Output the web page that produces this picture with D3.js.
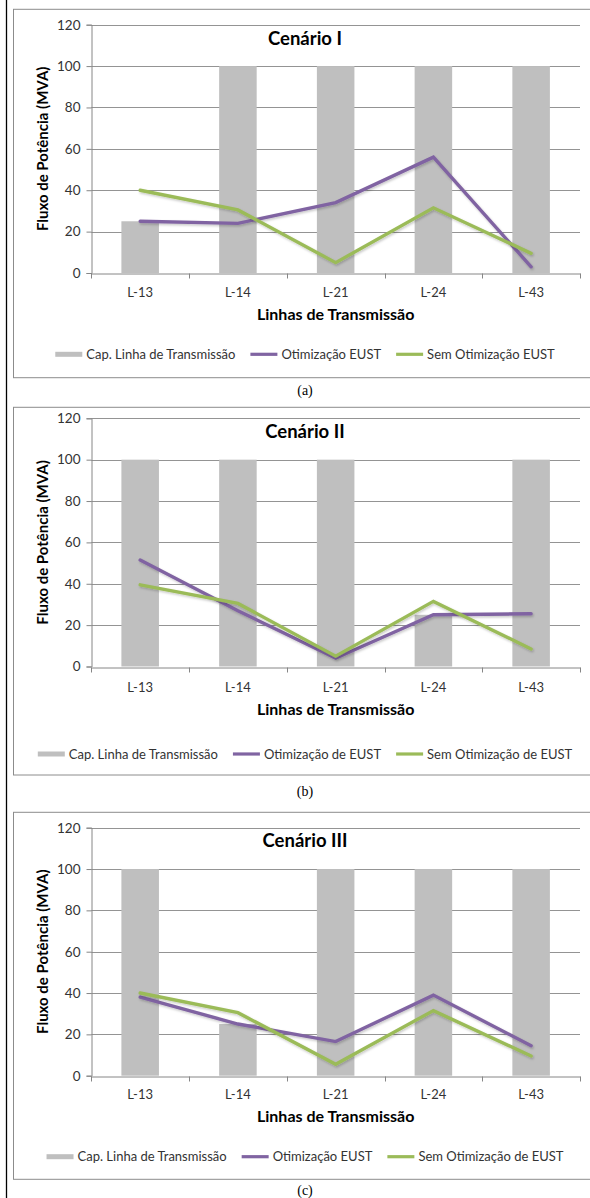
<!DOCTYPE html>
<html><head><meta charset="utf-8">
<script src="https://cdn.jsdelivr.net/npm/d3@7"></script>
<style>
html,body{margin:0;padding:0;background:#fff;}
svg{display:block;}
</style></head>
<body>
<script>
// ---------- data ----------
const categories = ["L-13", "L-14", "L-21", "L-24", "L-43"];
const yTicks = [0, 20, 40, 60, 80, 100, 120];

const capI   = [25, 100, 100, 100, 100];
const otimI  = [25, 24, 34, 56, 3];
const semI   = [40, 30.5, 5, 31.5, 9.5];

const capII  = [100, 100, 100, 25, 100];
const otimII = [51.5, 27, 4, 25, 25.5];
const semII  = [39.5, 30.5, 5, 31.5, 8.5];

const capIII  = [100, 25, 100, 100, 100];
const otimIII = [38, 25, 16.5, 39, 14.5];
const semIII  = [40, 30.5, 5.5, 31.5, 9.5];

const titles = ["Cenário I", "Cenário II", "Cenário III"];
const captions = ["(a)", "(b)", "(c)"];
const legendI   = ["Cap. Linha de Transmissão", "Otimização EUST", "Sem Otimização EUST"];
const legendII  = ["Cap. Linha de Transmissão", "Otimização de EUST", "Sem Otimização de EUST"];
const legendIII = ["Cap. Linha de Transmissão", "Otimização EUST", "Sem Otimização de EUST"];
const yTitle = "Fluxo de Potência (MVA)";
const xTitle = "Linhas de Transmissão";

// ---------- layout / style ----------
const W = 590, H = 1198;
const COL_BAR = "#bfbfbf", COL_OTIM = "#8064a2", COL_SEM = "#9bbb59";
const FONT = "Lato, 'Open Sans', sans-serif";
const panels = [
  {cap: capI,   otim: otimI,   sem: semI,   legend: legendI,
   boxTop: 9.3, boxBot: 377.7, yTop: 24.7, yBot: 273, lab: 291.7, xt: 314.5, leg: 354.3, tt: 39, capY: 390.5},
  {cap: capII,  otim: otimII,  sem: semII,  legend: legendII,
   boxTop: 407.3, boxBot: 775, yTop: 418.3, yBot: 666.5, lab: 686.7, xt: 709.5, leg: 754, tt: 431.7, capY: 791.2},
  {cap: capIII, otim: otimIII, sem: semIII, legend: legendIII,
   boxTop: 812.3, boxBot: 1179.3, yTop: 827.7, yBot: 1075.7, lab: 1094, xt: 1116.2, leg: 1156.7, tt: 841, capY: 1190.5}
];
const plotL = 91.3, plotR = 580, boxL = 13.5, boxR = 597, midX = 305;

const svg = d3.select("body").append("svg").attr("width", W).attr("height", H);
svg.append("rect").attr("width", W).attr("height", H).attr("fill", "#fff");

const defs = svg.append("defs");
const f = defs.append("filter").attr("id", "sh").attr("x", "-10%").attr("y", "-20%").attr("width", "130%").attr("height", "150%");
f.append("feDropShadow").attr("dx", 1).attr("dy", 1.5).attr("stdDeviation", 1).attr("flood-color", "#000").attr("flood-opacity", 0.22);

// page border line on the left
svg.append("line").attr("x1", 6.5).attr("x2", 6.5).attr("y1", 0).attr("y2", H)
  .attr("stroke", "#000").attr("stroke-width", 1.3);

const x = d3.scaleBand().domain(categories).range([plotL, plotR]).padding(0);
const barFrac = 0.384;

panels.forEach((p, i) => {
  const g = svg.append("g");
  const y = d3.scaleLinear().domain([0, 120]).range([p.yBot, p.yTop]);

  // panel box
  g.append("rect").attr("x", boxL).attr("y", p.boxTop).attr("width", boxR - boxL).attr("height", p.boxBot - p.boxTop)
    .attr("fill", "#fff").attr("stroke", "#8c8c8c").attr("stroke-width", 1);

  // gridlines
  g.append("g").selectAll("line").data(yTicks.filter(t => t > 0)).join("line")
    .attr("x1", plotL).attr("x2", plotR)
    .attr("y1", d => Math.round(y(d)) + 0.5).attr("y2", d => Math.round(y(d)) + 0.5)
    .attr("stroke", "#949494").attr("stroke-width", 1);

  // bars
  const bw = x.bandwidth() * barFrac;
  g.append("g").selectAll("rect").data(categories).join("rect")
    .attr("x", (d) => x(d) + (x.bandwidth() - bw) / 2)
    .attr("width", bw)
    .attr("y", (d, k) => y(p.cap[k]))
    .attr("height", (d, k) => y(0) - y(p.cap[k]))
    .attr("fill", COL_BAR);

  // y axis
  const ya = d3.axisLeft(y).tickValues(yTicks).tickSize(5).tickPadding(6);
  const yg = g.append("g").attr("transform", `translate(${Math.round(plotL) + 0.5},0)`).call(ya);
  yg.select(".domain").attr("stroke", "#868686");
  yg.selectAll(".tick line").attr("stroke", "#868686");
  yg.selectAll(".tick text").attr("font-family", FONT).attr("font-size", 13.5).attr("fill", "#333");

  // x axis
  const xa = d3.axisBottom(x).tickSize(0).tickPadding(0);
  const xg = g.append("g").attr("transform", `translate(0,${Math.round(y(0)) + 0.5})`).call(xa);
  xg.select(".domain").attr("stroke", "#868686");
  xg.selectAll(".tick text").attr("font-family", FONT).attr("font-size", 13).attr("fill", "#333")
    .attr("y", p.lab - y(0)).attr("dy", "0.35em");
  // category boundary ticks
  const bounds = categories.map(c => x(c)).concat([plotR]);
  xg.selectAll(".bt").data(bounds).join("line").attr("class", "bt")
    .attr("x1", d => Math.round(d) + 0.5).attr("x2", d => Math.round(d) + 0.5)
    .attr("y1", 0).attr("y2", 5).attr("stroke", "#868686");

  // lines
  const line = arr => d3.line().x((d, k) => x(categories[k]) + x.bandwidth() / 2).y(d => y(d))(arr);
  [[p.otim, COL_OTIM], [p.sem, COL_SEM]].forEach(([arr, col]) => {
    g.append("path").attr("d", line(arr)).attr("fill", "none").attr("stroke", col)
      .attr("stroke-width", 3.4).attr("stroke-linejoin", "miter").attr("stroke-linecap", "round")
      .attr("filter", "url(#sh)");
  });

  // title
  g.append("text").attr("x", midX).attr("y", p.tt).attr("dy", "0.35em").attr("text-anchor", "middle")
    .attr("font-family", FONT).attr("font-weight", "bold").attr("font-size", 18.5).attr("fill", "#000")
    .text(titles[i]);

  // axis titles
  g.append("text").attr("transform", `translate(43,${(p.yTop + p.yBot) / 2}) rotate(-90)`)
    .attr("dy", "0.35em").attr("text-anchor", "middle")
    .attr("font-family", FONT).attr("font-weight", "bold").attr("font-size", 15).attr("fill", "#000")
    .text(yTitle);
  g.append("text").attr("x", (plotL + plotR) / 2).attr("y", p.xt).attr("dy", "0.35em").attr("text-anchor", "middle")
    .attr("font-family", FONT).attr("font-weight", "bold").attr("font-size", 16).attr("fill", "#000")
    .text(xTitle);

  // legend
  const lg = g.append("g");
  const keyW = 27, gap = 4, spacing = 15;
  const items = p.legend.map((t, k) => {
    const it = lg.append("g");
    if (k === 0) {
      it.append("rect").attr("x", 0).attr("y", -2.5).attr("width", keyW).attr("height", 5).attr("fill", COL_BAR);
    } else {
      it.append("line").attr("x1", 0).attr("x2", keyW).attr("y1", 0).attr("y2", 0)
        .attr("stroke", k === 1 ? COL_OTIM : COL_SEM).attr("stroke-width", 3.2);
    }
    const tx = it.append("text").attr("x", keyW + gap).attr("y", 0).attr("dy", "0.35em")
      .attr("font-family", FONT).attr("font-size", 13).attr("fill", "#333").text(t);
    return {it, w: keyW + gap + tx.node().getComputedTextLength()};
  });
  const total = d3.sum(items, d => d.w) + spacing * (items.length - 1);
  let cx = midX - total / 2;
  items.forEach(d => { d.it.attr("transform", `translate(${cx},${p.leg})`); cx += d.w + spacing; });

  // caption
  svg.append("text").attr("x", midX).attr("y", p.capY).attr("dy", "0.35em").attr("text-anchor", "middle")
    .attr("font-family", "'Liberation Serif', 'Times New Roman', serif").attr("font-size", 14).attr("fill", "#000")
    .text(captions[i]);
});
</script>
</body></html>
